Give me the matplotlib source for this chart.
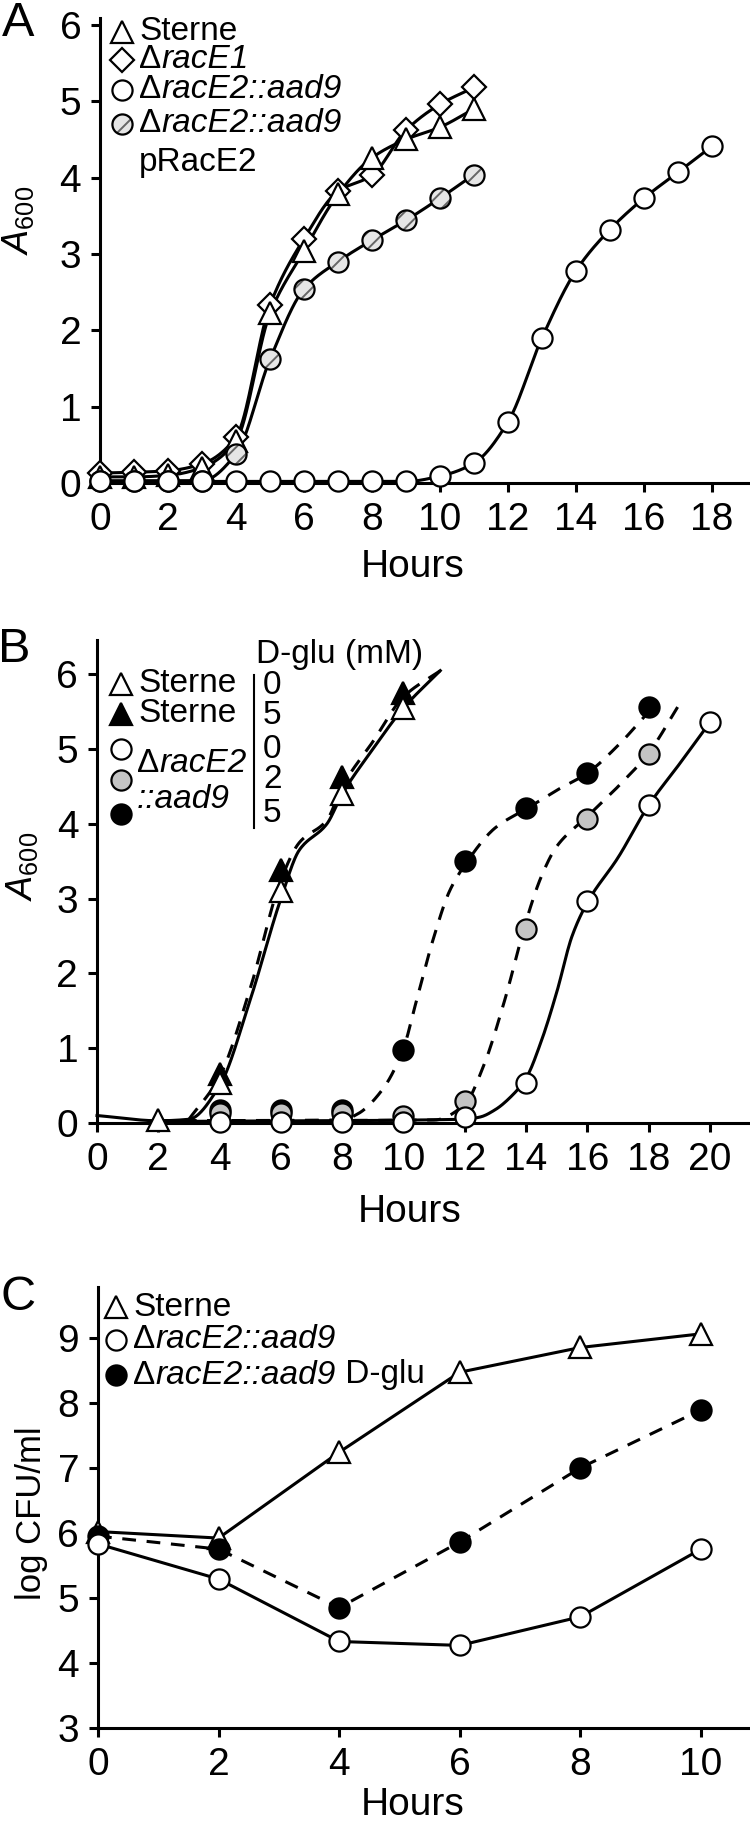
import numpy as np
import matplotlib
matplotlib.use('Agg')
import matplotlib.pyplot as plt
from matplotlib import transforms as mtransforms
from matplotlib.text import Annotation

plt.rcParams['font.family'] = ['Liberation Sans', 'DejaVu Sans']
plt.rcParams['mathtext.fontset'] = 'custom'
plt.rcParams['mathtext.rm'] = 'Liberation Sans'
plt.rcParams['mathtext.it'] = 'Liberation Sans:italic'
plt.rcParams['hatch.linewidth'] = 1.4

# ---- panel A: A600 growth curves ----
hours_a = [0, 1, 2, 3, 4, 5, 6, 7, 8, 9, 10, 11]
hours_a_long = [0, 1, 2, 3, 4, 5, 6, 7, 8, 9, 10, 11, 12, 13, 14, 15, 16, 17, 18]
sterne_a = [0.08, 0.08, 0.1, 0.2, 0.55, 2.22, 3.04, 3.78, 4.26, 4.5, 4.66, 4.9]
race1_a = [0.13, 0.14, 0.16, 0.25, 0.6, 2.33, 3.2, 3.82, 4.03, 4.62, 4.96, 5.18]
race2_a = [0.02, 0.02, 0.02, 0.02, 0.02, 0.02, 0.02, 0.02, 0.02, 0.02,
           0.09, 0.26, 0.8, 1.9, 2.78, 3.32, 3.73, 4.07, 4.41]
comp_a = [0.03, 0.03, 0.03, 0.03, 0.38, 1.62, 2.54, 2.9, 3.18, 3.44, 3.73, 4.04]

# ---- panel B: D-glutamate rescue, measured points ----
sterne0_b_h = [2, 4, 6, 8, 10]
sterne0_b = [0.04, 0.54, 3.1, 4.4, 5.55]
sterne5_b_h = [4, 6, 8, 10]
sterne5_b = [0.65, 3.39, 4.63, 5.75]
race2_0_h = [4, 6, 8, 10, 12, 14, 16, 18, 20]
race2_0 = [0.01, 0.01, 0.01, 0.01, 0.08, 0.54, 2.97, 4.25, 5.36]
race2_25_h = [4, 6, 8, 10, 12, 14, 16, 18]
race2_2 = [0.13, 0.14, 0.14, 0.1, 0.3, 2.6, 4.07, 4.93]
race2_5 = [0.18, 0.18, 0.18, 0.98, 3.51, 4.21, 4.68, 5.56]

# panel B fitted curves (they don't go through every point)
fit_sterne0_h = [0, 2, 3, 4, 5, 6, 6.6, 7.5, 8, 9, 10, 11.2]
fit_sterne0 = [0.1, 0.03, 0.05, 0.5, 1.65, 3.0, 3.65, 4.0, 4.4, 5.0, 5.55, 6.05]
fit_sterne5_h = [3, 4, 5, 6, 6.6, 7.5, 8, 9, 10, 11.2]
fit_sterne5 = [0.05, 0.62, 1.8, 3.25, 3.75, 4.05, 4.5, 5.1, 5.7, 6.05]
fit_race2_0_h = [2, 12, 12.5, 13, 13.5, 14, 14.5, 15, 15.5, 16, 17, 18, 19, 20]
fit_race2_0 = [0.02, 0.05, 0.08, 0.18, 0.35, 0.6, 1.1, 1.75, 2.5, 2.95, 3.55, 4.25, 4.8, 5.36]
fit_race2_2_h = [2, 11, 12, 12.6, 13.3, 14, 14.5, 15, 16, 17, 18, 19]
fit_race2_2 = [0.03, 0.04, 0.25, 0.75, 1.64, 2.7, 3.3, 3.7, 4.1, 4.5, 4.95, 5.6]
fit_race2_5_h = [2, 8, 8.5, 9.3, 10, 10.4, 11, 11.5, 12, 13, 14, 15, 16, 17, 18]
fit_race2_5 = [0.03, 0.04, 0.12, 0.44, 1.0, 1.6, 2.5, 3.1, 3.45, 3.95, 4.2, 4.45, 4.68, 5.05, 5.5]

# ---- panel C: viable counts ----
hours_c = [0, 2, 4, 6, 8, 10]
sterne_c = [6.02, 5.92, 7.24, 8.47, 8.85, 9.06]
race2_c = [5.83, 5.29, 4.33, 4.27, 4.71, 5.75]
race2_dglu_c = [5.95, 5.75, 4.85, 5.86, 7.0, 7.89]

W, H = 750, 1823
LW = 2.2
MS = 14.5
DASH = (0, (4.5, 3.5))
GREY = '#c4c4c4'
LEG = 24


def smooth(xk, yk, n=400):
    """Monotone cubic through the knots, only used to draw the curves."""
    xk = np.asarray(xk, float)
    yk = np.asarray(yk, float)
    h = np.diff(xk)
    d = np.diff(yk) / h
    m = np.zeros_like(yk)
    m[0], m[-1] = d[0], d[-1]
    for k in range(1, len(xk) - 1):
        if d[k - 1] * d[k] > 0:
            w1 = 2 * h[k] + h[k - 1]
            w2 = h[k] + 2 * h[k - 1]
            m[k] = (w1 + w2) / (w1 / d[k - 1] + w2 / d[k])
    xs = np.linspace(xk[0], xk[-1], n)
    i = np.clip(np.searchsorted(xk, xs) - 1, 0, len(h) - 1)
    t = (xs - xk[i]) / h[i]
    ys = ((2 * t**3 - 3 * t**2 + 1) * yk[i] + (t**3 - 2 * t**2 + t) * h[i] * m[i]
          + (-2 * t**3 + 3 * t**2) * yk[i + 1] + (t**3 - t**2) * h[i] * m[i + 1])
    return xs, ys


fig = plt.figure(figsize=(W / 100, H / 100), dpi=100)
# figure pixel coords, origin top-left
px = mtransforms.Affine2D().scale(1 / W, -1 / H).translate(0, 1) + fig.transFigure


def axes_px(left, right, top, bottom):
    ax = fig.add_axes([left / W, 1 - bottom / H, (right - left) / W, (bottom - top) / H])
    for s in ['top', 'right']:
        ax.spines[s].set_visible(False)
    for s in ['left', 'bottom']:
        ax.spines[s].set_linewidth(LW)
    ax.tick_params(direction='out', length=6.5, width=LW, labelsize=28, pad=7)
    return ax


def marks(ax, x, y, marker, fc, ms=MS, z=4, transform=None):
    kw = {} if transform is None else {'transform': transform}
    ax.plot(x, y, ls='none', marker=marker, ms=ms, mfc=fc, mec='black',
            mew=1.6, zorder=z, clip_on=False, **kw)


def hatched(ax, x, y, z=4, transform=None):
    kw = {} if transform is None else {'transform': transform}
    ax.scatter(x, y, s=MS**2, facecolor='0.9', edgecolor='0.4', linewidths=0,
               hatch='//', zorder=z, clip_on=False, **kw)
    marks(ax, x, y, 'o', 'none', z=z + 0.1, transform=transform)


def label(x, y, parts, size=LEG):
    """Text made of (string, style) pieces, laid out left to right."""
    t = fig.text(x, y, parts[0][0], transform=px, fontsize=size,
                 style=parts[0][1], ha='left', va='center')
    for s, st in parts[1:]:
        t = fig.add_artist(Annotation(s, xy=(1, 0), xycoords=t, fontsize=size,
                                      style=st, ha='left', va='bottom'))
    return t


def curve(ax, xk, yk, ls='-'):
    xs, ys = smooth(xk, yk)
    ax.plot(xs, ys, color='black', lw=LW, ls=ls, zorder=2, clip_on=False)


# ---------------- A ----------------
ax_a = axes_px(100, 748, 18, 483)
ax_a.set_xlim(0, 19.06)
ax_a.set_ylim(0, 6.09)
ax_a.set_xticks(range(0, 19, 2))
ax_a.set_yticks(range(0, 7))

curve(ax_a, hours_a, sterne_a)
curve(ax_a, hours_a, race1_a)
curve(ax_a, hours_a, comp_a)
curve(ax_a, hours_a_long, race2_a)
marks(ax_a, hours_a, race1_a, 'D', 'white', ms=12.5, z=4)
marks(ax_a, hours_a, sterne_a, '^', 'white', ms=15.5, z=4.5)
hatched(ax_a, hours_a, comp_a, z=5)
marks(ax_a, hours_a_long, race2_a, 'o', 'white', z=6)

marks(ax_a, [122], [32], '^', 'white', ms=15.5, transform=px)
marks(ax_a, [122], [60], 'D', 'white', ms=12.5, transform=px)
marks(ax_a, [122], [90], 'o', 'white', transform=px)
hatched(ax_a, [122], [124], transform=px)
label(139, 32, [('Sterne', 'normal')])
label(139, 60, [('Δ', 'normal'), ('racE1', 'italic')])
label(139, 90, [('Δ', 'normal'), ('racE2::aad9', 'italic')])
label(139, 124, [('Δ', 'normal'), ('racE2::aad9', 'italic')])
label(139, 163, [('pRacE2', 'normal')])

# ---------------- B ----------------
ax_b = axes_px(97, 748, 640, 1123)
ax_b.set_xlim(0, 21.24)
ax_b.set_ylim(0, 6.46)
ax_b.set_xticks(range(0, 21, 2))
ax_b.set_yticks(range(0, 7))

curve(ax_b, fit_sterne0_h, fit_sterne0)
curve(ax_b, fit_sterne5_h, fit_sterne5, DASH)
curve(ax_b, fit_race2_0_h, fit_race2_0)
curve(ax_b, fit_race2_2_h, fit_race2_2, DASH)
curve(ax_b, fit_race2_5_h, fit_race2_5, DASH)
marks(ax_b, sterne5_b_h, sterne5_b, '^', 'black', ms=15.5, z=4)
marks(ax_b, sterne0_b_h, sterne0_b, '^', 'white', ms=15.5, z=4.5)
marks(ax_b, race2_25_h, race2_5, 'o', 'black', z=5)
marks(ax_b, race2_25_h, race2_2, 'o', GREY, z=5.5)
marks(ax_b, race2_0_h, race2_0, 'o', 'white', z=6)

marks(ax_b, [121], [684], '^', 'white', ms=15.5, transform=px)
marks(ax_b, [121], [714], '^', 'black', ms=15.5, transform=px)
marks(ax_b, [121], [749], 'o', 'white', transform=px)
marks(ax_b, [121], [780], 'o', GREY, transform=px)
marks(ax_b, [121], [814], 'o', 'black', transform=px)
label(138, 684, [('Sterne', 'normal')])
label(138, 714, [('Sterne', 'normal')])
label(137, 764, [('Δ', 'normal'), ('racE2', 'italic')])
label(137, 799, [('::aad9', 'italic')])
label(256, 655, [('D-glu (mM)', 'normal')])
for yy, s in zip([686, 716, 749, 780, 814], ['0', '5', '0', '2', '5']):
    label(263, yy, [(s, 'normal')])
ax_b.plot([254, 254], [675, 828], color='black', lw=1.5, transform=px, clip_on=False)

# ---------------- C ----------------
ax_c = axes_px(98, 748, 1287, 1728)
ax_c.set_xlim(0, 10.78)
ax_c.set_ylim(3, 9.78)
ax_c.set_xticks(range(0, 11, 2))
ax_c.set_yticks(range(3, 10))

ax_c.plot(hours_c, sterne_c, color='black', lw=LW, zorder=2)
ax_c.plot(hours_c, race2_c, color='black', lw=LW, zorder=2)
ax_c.plot(hours_c, race2_dglu_c, color='black', lw=LW, ls=DASH, zorder=2)
marks(ax_c, hours_c, sterne_c, '^', 'white', ms=15.5, z=4)
marks(ax_c, hours_c, race2_dglu_c, 'o', 'black', z=5)
marks(ax_c, hours_c, race2_c, 'o', 'white', z=6)

marks(ax_c, [116], [1307], '^', 'white', ms=15.5, transform=px)
marks(ax_c, [116], [1340], 'o', 'white', transform=px)
marks(ax_c, [116], [1375], 'o', 'black', transform=px)
label(133, 1307, [('Sterne', 'normal')])
label(133, 1340, [('Δ', 'normal'), ('racE2::aad9', 'italic')])
label(133, 1375, [('Δ', 'normal'), ('racE2::aad9', 'italic'), (' D-glu', 'normal')])

# axis titles and panel letters
for x, y in [(413, 567), (410, 1212), (413, 1805)]:
    fig.text(x, y, 'Hours', transform=px, fontsize=28, ha='center', va='center')
for x, y in [(18, 220), (22, 866)]:
    fig.text(x, y, r'$\mathit{A}_{600}$', transform=px, fontsize=26,
             rotation=90, ha='center', va='center')
fig.text(31, 1513, 'log CFU/ml', transform=px, fontsize=25, rotation=90,
         ha='center', va='center')
for x, y, s in [(18, 23, 'A'), (14, 650, 'B'), (18, 1297, 'C')]:
    fig.text(x, y, s, transform=px, fontsize=35, ha='center', va='center')

fig.savefig('out.png', dpi=100)
